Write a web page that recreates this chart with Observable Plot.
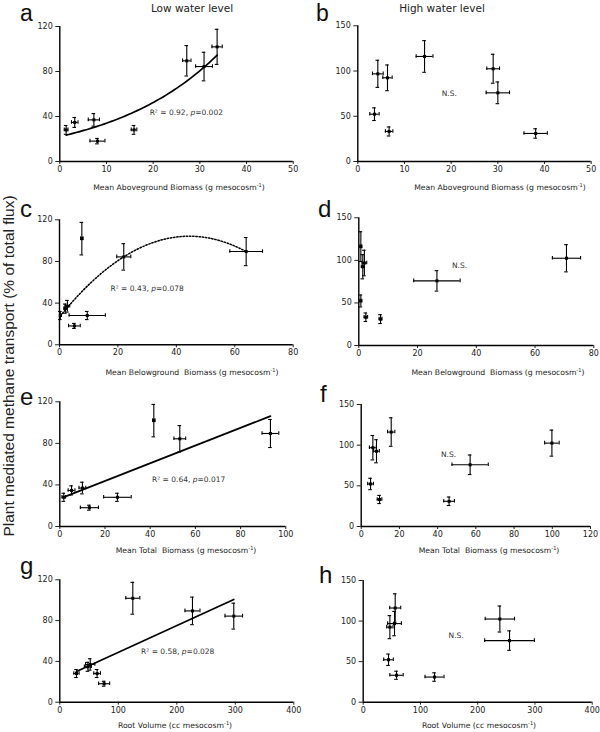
<!DOCTYPE html>
<html><head><meta charset="utf-8">
<script src="https://cdn.jsdelivr.net/npm/d3@7"></script>
<script src="https://cdn.jsdelivr.net/npm/@observablehq/plot@0.6"></script>
<style>
body{margin:0;background:#fff;}
#wrap{position:relative;width:600px;height:732px;background:#fff;overflow:hidden;}
#wrap svg{position:absolute;}
</style></head><body><div id="wrap"></div>
<script>
// ---------- DATA ----------
// Low water level: 8 treatments (same response in a, c, e, g)
const lowY      = [28.1, 34.7, 37.0, 18.1, 28.1, 89.5, 84.4, 101.9];
const lowYErr   = [3.9, 4.4, 5.6, 2.4, 3.9, 13.5, 12.7, 15.6];
const aboveLow     = [1.36, 3.2, 7.3, 8.07, 15.9, 27.2, 30.9, 33.7];
const aboveLowErr  = [0.4, 0.7, 1.2, 1.6, 0.6, 0.9, 1.8, 1.1];
const belowLow     = [0.3, 2.0, 2.7, 5.1, 9.5, 63.9, 22.0, 7.65];
const belowLowErr  = [0.3, 0.5, 0.8, 2.0, 6.2, 5.6, 2.4, 0.4];
const totalLow     = [1.77, 5.2, 10.0, 13.1, 25.5, 93.2, 53.1, 41.6];
const totalLowErr  = [0.8, 1.5, 1.5, 4.0, 6.1, 3.7, 2.6, 0.5];
const rootLow      = [28.5, 48, 52, 75.8, 63.8, 226.8, 297.4, 124.8];
const rootLowErr   = [4.5, 6, 8, 9.4, 5.7, 12.8, 15, 12];

// High water level: 8 treatments (same response in b, d, f, h)
const highY     = [52.3, 96.9, 92.5, 33.2, 116.1, 102.5, 75.9, 31.0];
const highYErr  = [7.0, 15.0, 14.2, 5.0, 17.5, 16.0, 12.0, 5.2];
const aboveHigh    = [3.57, 4.29, 6.36, 6.71, 14.3, 29.0, 30.0, 38.1];
const aboveHighErr = [1.0, 1.15, 1.0, 0.8, 1.8, 1.36, 2.5, 2.5];
const belowHigh    = [0.7, 1.9, 1.36, 2.4, 0.7, 70.7, 26.6, 7.4];
const belowHighErr = [0.3, 0.8, 0.5, 0.6, 0.3, 4.8, 7.9, 0.5];
const totalHigh    = [4.9, 6.1, 8.0, 9.6, 15.7, 99.8, 57.0, 46.0];
const totalHighErr = [1.5, 1.8, 1.5, 1.2, 1.9, 3.8, 9.5, 2.8];
const rootHigh     = [44.2, 54.7, 46.6, 58.2, 55.9, 238.7, 255.6, 124.6];
const rootHighErr  = [8.4, 12, 5.5, 11.6, 9.6, 25.6, 43.4, 16.6];

// Tick labels
const ticksX50  = [0, 10, 20, 30, 40, 50];
const ticksX80  = [0, 20, 40, 60, 80];
const ticksX100 = [0, 20, 40, 60, 80, 100];
const ticksX120 = [0, 20, 40, 60, 80, 100, 120];
const ticksX400 = [0, 100, 200, 300, 400];
const ticksY120 = [0, 40, 80, 120];
const ticksY150 = [0, 50, 100, 150];

// Texts
const panelLetters = ["a", "b", "c", "d", "e", "f", "g", "h"];
const columnTitles = ["Low water level", "High water level"];
const xTitles = ["Mean Aboveground Biomass", "Mean Belowground  Biomass", "Mean Total  Biomass", "Root Volume"];
const xUnits  = ["g mesocosm", "g mesocosm", "g mesocosm", "cc mesocosm"];
const yTitle = "Plant mediated methane transport (% of total flux)";
const statsA = "R\u00b2 = 0.92, p=0.002";
const statsC = "R\u00b2 = 0.43, p=0.078";
const statsE = "R\u00b2 = 0.64, p=0.017";
const statsG = "R\u00b2 = 0.58, p=0.028";
const nsText = "N.S.";

// ---------- helpers ----------
const FONT = "DejaVu Sans, Verdana, sans-serif";
function rows(xs, xe, ys, ye) { return xs.map((x, i) => ({x, xe: xe[i], y: ys[i], ye: ye[i]})); }
function linFit(xs, ys) {
  const n = xs.length, mx = d3.mean(xs), my = d3.mean(ys);
  let sxy = 0, sxx = 0;
  for (let i = 0; i < n; i++) { sxy += (xs[i]-mx)*(ys[i]-my); sxx += (xs[i]-mx)**2; }
  const m = sxy/sxx; return {m, b: my - m*mx};
}
function expFit(xs, ys) { const f = linFit(xs, ys.map(Math.log)); return x => Math.exp(f.b) * Math.exp(f.m * x); }
function quadFit(xs, ys) {
  const S = k => d3.sum(xs, x => x**k), T = k => d3.sum(xs, (x, i) => ys[i] * x**k);
  const A = [[S(0), S(1), S(2)], [S(1), S(2), S(3)], [S(2), S(3), S(4)]], B = [T(0), T(1), T(2)];
  for (let c = 0; c < 3; c++) {
    for (let r = c+1; r < 3; r++) { const f = A[r][c]/A[c][c]; for (let k = c; k < 3; k++) A[r][k] -= f*A[c][k]; B[r] -= f*B[c]; }
  }
  const cc = [0,0,0];
  for (let r = 2; r >= 0; r--) { let s = B[r]; for (let k = r+1; k < 3; k++) s -= A[r][k]*cc[k]; cc[r] = s/A[r][r]; }
  return x => cc[0] + cc[1]*x + cc[2]*x*x;
}
function sample(fn, xs, n = 60) {
  const [a, b] = d3.extent(xs);
  return d3.range(n + 1).map(i => { const x = a + (b - a) * i / n; return {x, y: fn(x)}; });
}

const wrap = document.getElementById("wrap");
function panel(cfg) {
  const {left, top, width, height, fx0, fx1, fyT, fyB, xDomain, xTicks, yDomain, yTicks, data, curve, dotted, notes} = cfg;
  const sw = 1.1, cap = -1.8;
  const marks = [
    Plot.axisX({ticks: xTicks, tickSize: 3, tickPadding: 2, fontSize: 8, label: null, tickFormat: d => d}),
    Plot.axisY({ticks: yTicks, tickSize: 4, tickPadding: 3, fontSize: 8, label: null, tickFormat: d => d}),
    Plot.ruleY([yDomain[0]], {stroke: "#000", strokeWidth: 1.4}),
    Plot.ruleX([xDomain[0]], {stroke: "#000", strokeWidth: 1.4}),
    Plot.ruleX(data, {x: "x", y1: d => d.y - d.ye, y2: d => d.y + d.ye, stroke: "#000", strokeWidth: sw}),
    Plot.ruleY(data, {y: "y", x1: d => d.x - d.xe, x2: d => d.x + d.xe, stroke: "#000", strokeWidth: sw}),
    Plot.ruleY(data, {y: d => d.y - d.ye, x1: "x", x2: "x", insetLeft: cap, insetRight: cap, stroke: "#000", strokeWidth: sw}),
    Plot.ruleY(data, {y: d => d.y + d.ye, x1: "x", x2: "x", insetLeft: cap, insetRight: cap, stroke: "#000", strokeWidth: sw}),
    Plot.ruleX(data, {x: d => d.x - d.xe, y1: "y", y2: "y", insetTop: cap, insetBottom: cap, stroke: "#000", strokeWidth: sw}),
    Plot.ruleX(data, {x: d => d.x + d.xe, y1: "y", y2: "y", insetTop: cap, insetBottom: cap, stroke: "#000", strokeWidth: sw}),
    Plot.dot(data, {x: "x", y: "y", symbol: "square", r: 1.7, fill: "#000", stroke: "none"})
  ];
  if (curve) marks.push(Plot.line(curve, {x: "x", y: "y", stroke: "#000", strokeWidth: dotted ? 1.5 : 1.7,
    strokeDasharray: dotted ? "1.4,1.8" : null, curve: "linear"}));
  for (const n of notes) marks.push(Plot.text([n.t], {x: () => n.x, y: () => n.y, text: d => d, fontSize: 7.5, fill: "#333", fontFamily: FONT}));
  const svg = Plot.plot({
    width, height,
    marginLeft: fx0 - left, marginRight: left + width - fx1,
    marginTop: fyT - top, marginBottom: top + height - fyB,
    x: {domain: xDomain}, y: {domain: yDomain},
    style: {background: "transparent", color: "#222", fontFamily: FONT, overflow: "visible"},
    marks
  });
  svg.style.left = left + "px"; svg.style.top = top + "px";
  svg.querySelectorAll("text").forEach(t => {
    const s = t.textContent;
    if (s.includes("p=")) {
      const [a, b] = s.split("p=");
      t.textContent = "";
      const ns = "http://www.w3.org/2000/svg";
      const t1 = document.createElementNS(ns, "tspan"); t1.textContent = a;
      const t2 = document.createElementNS(ns, "tspan"); t2.textContent = "p"; t2.setAttribute("font-style", "italic");
      const t3 = document.createElementNS(ns, "tspan"); t3.textContent = "=" + b;
      t.append(t1, t2, t3);
    }
  });
  wrap.appendChild(svg);
}

const lowA = rows(aboveLow, aboveLowErr, lowY, lowYErr);
const lowC = rows(belowLow, belowLowErr, lowY, lowYErr);
const lowE = rows(totalLow, totalLowErr, lowY, lowYErr);
const lowG = rows(rootLow, rootLowErr, lowY, lowYErr);
const hiB = rows(aboveHigh, aboveHighErr, highY, highYErr);
const hiD = rows(belowHigh, belowHighErr, highY, highYErr);
const hiF = rows(totalHigh, totalHighErr, highY, highYErr);
const hiH = rows(rootHigh, rootHighErr, highY, highYErr);

const fitE = linFit(totalLow, lowY), fitG = linFit(rootLow, lowY);

panel({left: 0, top: 0, width: 300, height: 180, fx0: 59.3, fx1: 292.7, fyT: 26, fyB: 161,
  xDomain: [0, 50], xTicks: ticksX50, yDomain: [0, 120], yTicks: ticksY120, data: lowA,
  curve: sample(expFit(aboveLow, lowY), aboveLow), notes: [{t: statsA, x: 27.1, y: 43.3}]});
panel({left: 300, top: 0, width: 300, height: 180, fx0: 357.3, fx1: 590.7, fyT: 25.3, fyB: 161,
  xDomain: [0, 50], xTicks: ticksX50, yDomain: [0, 150], yTicks: ticksY150, data: hiB,
  notes: [{t: nsText, x: 19.6, y: 75.2}]});
panel({left: 0, top: 185, width: 300, height: 175, fx0: 59, fx1: 292.7, fyT: 219.3, fyB: 344.3,
  xDomain: [0, 80], xTicks: ticksX80, yDomain: [0, 120], yTicks: ticksY120, data: lowC,
  curve: sample(quadFit(belowLow, lowY), belowLow), dotted: true, notes: [{t: statsC, x: 30, y: 54}]});
panel({left: 300, top: 185, width: 300, height: 175, fx0: 358.3, fx1: 593.3, fyT: 217.3, fyB: 345,
  xDomain: [0, 80], xTicks: ticksX80, yDomain: [0, 150], yTicks: ticksY150, data: hiD,
  notes: [{t: nsText, x: 34.3, y: 94}]});
panel({left: 0, top: 365, width: 300, height: 180, fx0: 59.3, fx1: 285.3, fyT: 401.3, fyB: 526,
  xDomain: [0, 100], xTicks: ticksX100, yDomain: [0, 120], yTicks: ticksY120, data: lowE,
  curve: d3.extent(totalLow).map(x => ({x, y: fitE.b + fitE.m * x})), notes: [{t: statsE, x: 57, y: 45}]});
panel({left: 300, top: 365, width: 300, height: 180, fx0: 360.7, fx1: 590, fyT: 404, fyB: 526,
  xDomain: [0, 120], xTicks: ticksX120, yDomain: [0, 150], yTicks: ticksY150, data: hiF,
  notes: [{t: nsText, x: 45.7, y: 88.1}]});
panel({left: 0, top: 545, width: 300, height: 175, fx0: 59.3, fx1: 293.3, fyT: 579.3, fyB: 701.7,
  xDomain: [0, 400], xTicks: ticksX400, yDomain: [0, 120], yTicks: ticksY120, data: lowG,
  curve: d3.extent(rootLow).map(x => ({x, y: fitG.b + fitG.m * x})), notes: [{t: statsG, x: 201.6, y: 49.7}]});
panel({left: 300, top: 545, width: 300, height: 175, fx0: 362.7, fx1: 591.7, fyT: 580, fyB: 701.7,
  xDomain: [0, 400], xTicks: ticksX400, yDomain: [0, 150], yTicks: ticksY150, data: hiH,
  notes: [{t: nsText, x: 162.4, y: 82.2}]});

// ---------- overlay texts ----------
const ov = d3.select(wrap).append("svg").attr("width", 600).attr("height", 732)
  .style("left", "0px").style("top", "0px").style("pointer-events", "none");
const letterPos = [[20, 20.8], [316, 20.8], [20, 216.5], [318, 216.5], [20, 404.5], [320, 401.5], [20, 574], [319, 583]];
panelLetters.forEach((l, i) => ov.append("text").attr("x", letterPos[i][0]).attr("y", letterPos[i][1])
  .attr("font-family", "Liberation Sans, Arial, sans-serif").attr("font-size", i < 2 ? 23 : 24).attr("fill", "#111").text(l));
const colPos = [[192, 12], [442, 12]];
columnTitles.forEach((t, i) => ov.append("text").attr("x", colPos[i][0]).attr("y", colPos[i][1])
  .attr("text-anchor", "middle").attr("font-family", FONT).attr("font-size", 10.5).attr("fill", "#222").text(t));
const xtPos = [[179, 190], [500, 190], [192, 375], [498, 375], [186, 553], [489, 553], [175, 728], [479, 728]];
xtPos.forEach((p, i) => {
  const k = Math.floor(i / 2);
  const t = ov.append("text").attr("x", p[0]).attr("y", p[1]).attr("text-anchor", "middle")
    .attr("font-family", FONT).attr("font-size", 7.7).attr("fill", "#222").style("white-space", "pre");
  t.append("tspan").text(xTitles[k] + " (" + xUnits[k]);
  t.append("tspan").attr("font-size", 5).attr("dy", -3).text("-1");
  t.append("tspan").attr("dy", 3).text(")");
});
ov.append("text").attr("transform", "translate(14,366) rotate(-90)").attr("text-anchor", "middle")
  .attr("font-family", "Liberation Sans, Arial, sans-serif").attr("font-size", 15.5).attr("fill", "#222").text(yTitle);
</script></body></html>
